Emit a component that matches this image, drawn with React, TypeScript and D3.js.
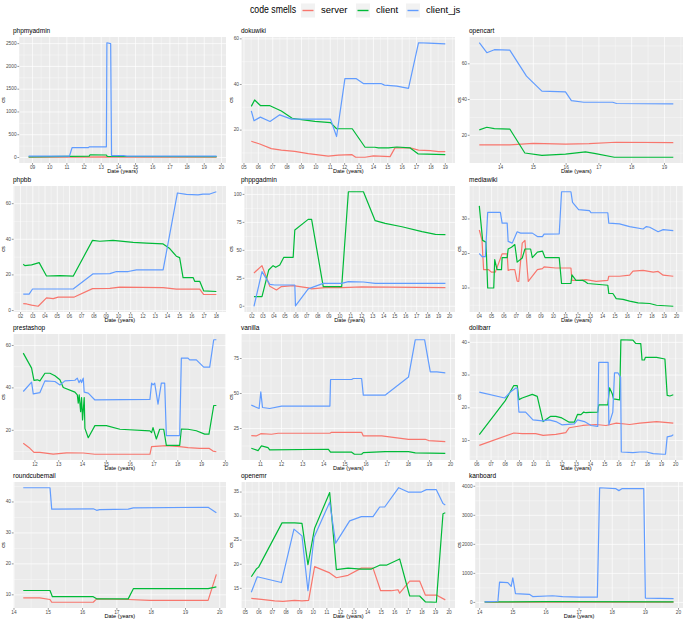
import * as d3 from "d3";
import React from "react";

type Pt = [number, number];

// --- data: [decimal year, code smells] ---

const phpmyadminServer: Pt[] = [[2008.77, 5], [2011.2, 10], [2013.3, 15], [2013.6, 10], [2019.72, 8]];
const phpmyadminClient: Pt[] = [[2008.77, 15], [2011.2, 25], [2012.3, 30], [2012.35, 60], [2013.3, 55], [2013.35, 25], [2019.72, 20]];
const phpmyadminClientJs: Pt[] = [[2008.77, 30], [2011.15, 30], [2011.3, 215], [2012.25, 215], [2012.3, 235], [2013.3, 235], [2013.33, 2520], [2013.55, 2500], [2013.6, 40], [2014.3, 40], [2014.5, 30], [2019.72, 30]];

const dokuwikiServer: Pt[] = [[2005.51, 15.1], [2006.1, 13.9], [2006.9, 11.9], [2007.6, 11.2], [2008.53, 10.7], [2009.47, 9.7], [2010.86, 8.6], [2011.56, 9.0], [2012.49, 9.3], [2012.77, 8.1], [2013.42, 8.1], [2014.0, 8.7], [2015.16, 8.4], [2015.5, 12.2], [2016.56, 12.2], [2017.14, 11.2], [2017.95, 11.0], [2018.53, 10.6], [2019.0, 10.6]];
const dokuwikiClient: Pt[] = [[2005.51, 30.4], [2005.74, 33.2], [2006.16, 30.7], [2006.81, 30.7], [2007.6, 28.4], [2008.35, 25.2], [2009.0, 24.6], [2009.93, 23.8], [2011.02, 23.3], [2011.44, 20.6], [2012.53, 20.6], [2013.42, 12.5], [2014.1, 12.5], [2014.35, 12.2], [2015.05, 12.2], [2015.63, 12.6], [2016.56, 12.2], [2017.1, 9.6], [2019.0, 9.3]];
const dokuwikiClientJs: Pt[] = [[2005.51, 28.4], [2005.7, 24.1], [2006.14, 25.7], [2006.81, 23.8], [2007.49, 26.7], [2008.3, 24.8], [2011.02, 24.8], [2011.44, 17.2], [2012.02, 42.6], [2012.79, 42.6], [2013.3, 40.4], [2014.53, 40.4], [2014.77, 39.7], [2015.63, 39.3], [2016.44, 38.3], [2017.14, 58.3], [2017.84, 58.1], [2019.0, 57.8]];

const opencartServer: Pt[] = [[2013.35, 14.6], [2014.28, 14.6], [2015.0, 15.5], [2015.98, 15.1], [2016.7, 15.3], [2017.52, 16.1], [2019.27, 15.9]];
const opencartClient: Pt[] = [[2013.35, 23.0], [2013.58, 24.5], [2013.81, 23.7], [2014.28, 23.5], [2014.74, 10.1], [2015.26, 8.8], [2015.98, 9.5], [2016.59, 10.7], [2016.9, 9.7], [2017.47, 7.7], [2019.27, 7.7]];
const opencartClientJs: Pt[] = [[2013.35, 71.8], [2013.58, 66.2], [2013.81, 67.9], [2014.28, 67.7], [2014.79, 53.1], [2015.0, 49.3], [2015.26, 44.7], [2015.98, 44.3], [2016.16, 39.4], [2016.54, 38.5], [2017.42, 38.5], [2017.54, 37.8], [2019.27, 37.6]];

const phpbbServer: Pt[] = [[2002.22, 3.9], [2002.5, 3.7], [2002.9, 3.0], [2003.44, 2.4], [2004.12, 7.1], [2004.67, 6.7], [2005.07, 7.5], [2006.35, 7.5], [2007.88, 12.3], [2009.3, 12.5], [2010.1, 13.1], [2013.65, 12.9], [2014.73, 12.0], [2016.64, 12.0], [2016.97, 9.0], [2018.0, 9.0]];
const phpbbClient: Pt[] = [[2002.22, 26.0], [2002.35, 25.2], [2002.9, 25.6], [2003.52, 26.9], [2004.12, 19.4], [2005.21, 19.6], [2006.3, 19.3], [2007.88, 39.4], [2008.48, 38.9], [2009.56, 39.4], [2011.2, 38.3], [2012.29, 37.9], [2013.65, 37.4], [2014.19, 34.8], [2014.73, 30.5], [2015.0, 29.7], [2015.28, 18.5], [2016.1, 18.5], [2016.23, 16.4], [2016.64, 16.4], [2016.97, 11.0], [2018.0, 10.7]];
const phpbbClientJs: Pt[] = [[2002.22, 9.2], [2002.7, 9.2], [2002.98, 12.1], [2006.3, 12.1], [2007.93, 20.6], [2009.3, 20.7], [2009.84, 21.9], [2010.8, 21.9], [2011.47, 22.8], [2013.65, 22.8], [2014.82, 66.0], [2015.55, 65.2], [2016.5, 64.9], [2016.91, 65.4], [2017.46, 65.4], [2018.0, 66.7]];

const phppgadminServer: Pt[] = [[2002.18, 29.8], [2002.91, 36.3], [2003.62, 17.9], [2004.23, 14.6], [2004.68, 17.6], [2005.75, 18.5], [2007.12, 16.4], [2007.43, 15.5], [2008.65, 16.7], [2010.17, 16.7], [2012.0, 17.3], [2019.62, 16.7]];
const phppgadminClient: Pt[] = [[2002.18, 8.6], [2002.91, 8.6], [2003.52, 32.4], [2003.92, 36.3], [2004.16, 34.8], [2004.53, 36.9], [2004.9, 43.8], [2005.75, 43.8], [2005.9, 68.2], [2007.12, 77.7], [2007.43, 77.7], [2008.49, 17.6], [2010.17, 17.6], [2010.78, 102.4], [2012.15, 102.4], [2013.22, 76.5], [2014.13, 74.1], [2015.66, 71.1], [2017.49, 66.7], [2018.71, 64.3], [2019.62, 64.0]];
const phppgadminClientJs: Pt[] = [[2002.18, 0.0], [2002.91, 31.0], [2003.62, 19.6], [2004.07, 19.0], [2005.9, 19.0], [2005.96, 0.3], [2007.12, 15.5], [2008.49, 20.5], [2010.17, 20.5], [2010.78, 22.0], [2012.15, 21.7], [2013.22, 20.5], [2019.62, 20.5]];

const mediawikiServer: Pt[] = [[2004.0, 26.8], [2004.22, 23.8], [2004.35, 15.3], [2004.76, 15.3], [2004.98, 14.6], [2005.3, 14.6], [2005.85, 19.9], [2006.26, 19.9], [2006.34, 15.1], [2006.5, 15.3], [2006.88, 15.3], [2007.07, 12.0], [2007.2, 11.9], [2007.48, 23.0], [2007.7, 23.8], [2007.97, 11.9], [2008.71, 15.3], [2009.12, 15.6], [2009.25, 16.1], [2010.2, 15.8], [2011.43, 15.8], [2011.51, 12.2], [2012.11, 12.2], [2012.65, 12.4], [2013.47, 11.9], [2014.42, 12.2], [2014.5, 13.4], [2015.37, 13.4], [2016.19, 13.7], [2016.46, 14.9], [2017.28, 15.1], [2018.1, 14.6], [2018.5, 14.8], [2018.91, 13.7], [2019.73, 13.4]];
const mediawikiClient: Pt[] = [[2004.0, 33.8], [2004.27, 23.8], [2004.54, 23.3], [2004.68, 10.0], [2005.17, 10.0], [2005.25, 18.2], [2005.44, 15.3], [2005.8, 15.3], [2005.85, 18.8], [2006.26, 18.8], [2006.34, 21.3], [2006.61, 21.8], [2006.88, 22.6], [2007.07, 17.5], [2007.48, 18.7], [2007.7, 21.3], [2008.16, 21.3], [2008.3, 18.8], [2008.71, 20.4], [2009.12, 20.7], [2009.33, 18.8], [2010.48, 18.8], [2010.67, 11.3], [2011.43, 11.3], [2011.51, 13.8], [2011.84, 12.2], [2012.38, 12.2], [2012.52, 12.0], [2012.79, 11.3], [2014.42, 10.8], [2014.5, 8.4], [2014.83, 8.4], [2015.1, 6.9], [2015.65, 6.7], [2016.19, 6.2], [2016.87, 5.7], [2017.82, 5.5], [2018.37, 5.0], [2019.73, 4.7]];
const mediawikiClientJs: Pt[] = [[2004.0, 20.0], [2004.22, 19.1], [2004.49, 19.1], [2004.68, 31.9], [2005.71, 31.9], [2005.85, 28.8], [2006.26, 28.8], [2006.34, 23.5], [2006.67, 23.0], [2007.07, 26.3], [2007.35, 25.9], [2008.3, 25.9], [2008.71, 24.9], [2009.12, 24.9], [2009.25, 25.6], [2010.48, 25.7], [2010.67, 37.9], [2011.43, 37.9], [2011.56, 34.8], [2012.05, 32.7], [2012.93, 32.4], [2013.07, 31.8], [2014.42, 31.8], [2014.5, 28.8], [2015.37, 28.6], [2016.19, 27.8], [2017.28, 27.1], [2017.55, 27.8], [2017.82, 27.6], [2018.5, 26.3], [2018.91, 26.9], [2019.73, 26.6]];

const prestashopServer: Pt[] = [[2011.51, 13.9], [2011.79, 11.5], [2011.96, 9.6], [2012.21, 9.6], [2012.77, 8.8], [2013.33, 9.4], [2014.03, 9.3], [2014.52, 8.7], [2016.83, 8.7], [2016.9, 12.3], [2017.52, 12.8], [2018.08, 12.3], [2018.43, 11.8], [2018.92, 11.5], [2019.31, 11.5], [2019.48, 10.2], [2019.62, 9.9]];
const prestashopClient: Pt[] = [[2011.51, 56.4], [2011.86, 49.3], [2011.96, 43.5], [2012.1, 43.8], [2012.21, 43.3], [2012.42, 46.9], [2012.63, 46.9], [2012.84, 45.7], [2013.05, 43.8], [2013.19, 40.2], [2013.68, 38.0], [2013.78, 36.7], [2013.82, 32.8], [2013.86, 36.7], [2013.92, 28.8], [2013.96, 35.4], [2014.0, 24.9], [2014.07, 35.4], [2014.1, 20.9], [2014.24, 16.5], [2014.52, 22.2], [2015.0, 22.2], [2015.57, 20.5], [2016.83, 19.7], [2016.9, 18.9], [2016.96, 21.3], [2017.1, 15.9], [2017.24, 20.5], [2017.41, 20.5], [2017.52, 12.9], [2018.08, 12.9], [2018.15, 20.6], [2018.43, 20.5], [2018.78, 19.8], [2019.13, 18.2], [2019.31, 18.2], [2019.51, 31.7], [2019.62, 31.7]];
const prestashopClientJs: Pt[] = [[2011.51, 38.3], [2011.86, 42.7], [2011.93, 37.2], [2012.21, 37.8], [2012.42, 43.3], [2012.84, 43.0], [2013.05, 41.4], [2013.26, 43.3], [2013.68, 43.6], [2013.78, 44.6], [2013.85, 42.5], [2013.92, 43.8], [2013.96, 42.5], [2014.03, 44.6], [2014.07, 38.0], [2014.24, 37.5], [2014.52, 34.3], [2016.83, 34.6], [2016.9, 42.2], [2016.96, 41.4], [2017.03, 42.2], [2017.17, 32.3], [2017.31, 42.2], [2017.45, 42.2], [2017.52, 17.5], [2018.08, 17.5], [2018.15, 54.0], [2018.43, 54.0], [2018.5, 53.2], [2018.78, 53.2], [2019.09, 49.8], [2019.34, 49.8], [2019.51, 62.7], [2019.62, 62.7]];

const vanillaServer: Pt[] = [[2010.57, 19.9], [2010.8, 19.7], [2011.02, 21.3], [2011.52, 20.9], [2011.84, 21.6], [2014.29, 21.6], [2014.37, 22.3], [2015.79, 22.3], [2015.87, 19.7], [2016.74, 19.7], [2018.01, 17.3], [2018.8, 17.3], [2018.96, 16.4], [2019.75, 15.6]];
const vanillaClient: Pt[] = [[2010.57, 10.9], [2010.89, 9.2], [2011.05, 12.6], [2011.36, 11.4], [2011.44, 9.7], [2014.21, 10.2], [2014.32, 8.1], [2015.32, 8.1], [2015.45, 6.6], [2015.79, 6.6], [2015.87, 7.8], [2016.9, 8.5], [2018.01, 8.5], [2018.33, 7.6], [2019.75, 7.3]];
const vanillaClientJs: Pt[] = [[2010.57, 41.7], [2010.94, 39.3], [2011.02, 51.2], [2011.1, 40.0], [2011.44, 39.3], [2012.0, 41.0], [2014.29, 41.0], [2014.32, 60.0], [2015.32, 60.0], [2015.4, 60.7], [2015.79, 60.7], [2015.87, 48.8], [2016.9, 48.8], [2018.01, 61.8], [2018.33, 88.4], [2018.77, 88.4], [2019.04, 65.4], [2019.35, 65.4], [2019.75, 64.7]];

const dolibarrServer: Pt[] = [[2006.17, 8.5], [2008.6, 12.3], [2009.19, 12.1], [2010.14, 12.1], [2010.66, 11.6], [2011.56, 11.9], [2012.26, 12.4], [2012.5, 13.9], [2013.45, 14.6], [2014.39, 14.9], [2015.1, 14.6], [2015.81, 15.3], [2016.76, 14.9], [2017.47, 15.3], [2018.65, 15.8], [2019.83, 15.3]];
const dolibarrClient: Pt[] = [[2006.17, 11.8], [2008.0, 22.2], [2008.6, 26.8], [2008.84, 26.8], [2008.96, 22.5], [2009.19, 23.0], [2009.9, 24.1], [2010.25, 23.5], [2010.66, 15.8], [2011.2, 17.4], [2011.56, 17.4], [2011.98, 16.9], [2012.5, 15.6], [2012.86, 15.6], [2013.09, 18.0], [2013.33, 17.9], [2013.52, 18.7], [2013.68, 18.5], [2013.92, 18.6], [2014.51, 18.7], [2014.58, 20.9], [2015.22, 20.9], [2015.34, 26.1], [2015.53, 24.3], [2015.62, 22.7], [2016.05, 22.4], [2016.14, 40.8], [2016.99, 40.7], [2017.18, 39.7], [2017.54, 39.6], [2017.63, 34.6], [2017.8, 34.6], [2017.86, 35.4], [2018.65, 35.4], [2019.24, 34.9], [2019.4, 23.8], [2019.59, 23.6], [2019.83, 24.0]];
const dolibarrClientJs: Pt[] = [[2006.17, 24.8], [2007.96, 23.0], [2008.36, 24.8], [2008.72, 26.0], [2008.84, 26.0], [2008.96, 18.7], [2009.43, 18.7], [2009.95, 16.3], [2010.61, 16.0], [2011.08, 16.3], [2011.56, 15.8], [2011.98, 14.8], [2012.86, 15.1], [2013.09, 16.3], [2013.57, 15.8], [2014.04, 14.6], [2014.51, 14.3], [2014.58, 33.9], [2015.24, 33.9], [2015.29, 14.8], [2015.57, 18.7], [2015.69, 30.7], [2015.93, 30.7], [2016.12, 29.3], [2016.17, 6.5], [2016.99, 6.3], [2017.47, 6.5], [2017.94, 6.5], [2018.41, 6.0], [2019.12, 5.8], [2019.28, 5.8], [2019.4, 11.1], [2019.71, 11.4], [2019.83, 11.8]];

const roundcubemailServer: Pt[] = [[2014.27, 9.0], [2014.75, 9.0], [2015.05, 8.5], [2015.1, 7.6], [2016.31, 7.6], [2016.41, 8.7], [2017.33, 8.5], [2017.96, 8.2], [2019.66, 8.2], [2019.9, 16.6]];
const roundcubemailClient: Pt[] = [[2014.27, 11.4], [2015.05, 11.4], [2015.12, 9.4], [2016.31, 9.4], [2016.41, 8.7], [2017.33, 8.7], [2017.48, 12.0], [2019.66, 12.0], [2019.9, 12.6]];
const roundcubemailClientJs: Pt[] = [[2014.27, 44.6], [2015.05, 44.6], [2015.1, 37.7], [2016.31, 37.8], [2016.41, 37.3], [2016.5, 37.5], [2017.33, 37.7], [2017.48, 38.1], [2019.66, 38.3], [2019.9, 36.5]];

const openemrServer: Pt[] = [[2005.44, 12.9], [2006.18, 12.7], [2007.16, 12.4], [2007.77, 12.3], [2008.63, 12.5], [2009.17, 12.4], [2009.66, 12.5], [2010.1, 19.5], [2011.21, 18.2], [2011.7, 17.2], [2012.56, 17.7], [2013.54, 19.2], [2014.4, 19.2], [2014.96, 14.5], [2015.75, 14.5], [2016.24, 14.7], [2016.36, 14.0], [2017.1, 16.5], [2017.83, 16.5], [2018.25, 13.6], [2019.06, 13.6], [2019.72, 12.6]];
const openemrClient: Pt[] = [[2005.44, 17.4], [2005.81, 19.0], [2005.98, 19.4], [2007.7, 28.6], [2008.63, 28.6], [2009.17, 28.5], [2009.61, 19.9], [2010.1, 27.5], [2011.21, 34.9], [2011.7, 18.9], [2012.56, 19.2], [2013.54, 19.0], [2014.28, 19.0], [2014.89, 19.8], [2015.38, 19.8], [2016.36, 21.1], [2017.1, 13.4], [2017.83, 13.4], [2018.25, 12.2], [2019.06, 12.1], [2019.55, 30.5], [2019.72, 30.7]];
const openemrClientJs: Pt[] = [[2005.44, 14.2], [2005.88, 17.4], [2007.65, 16.2], [2008.58, 27.3], [2009.17, 25.9], [2009.61, 14.5], [2010.06, 25.6], [2011.21, 32.9], [2011.65, 24.4], [2012.68, 29.0], [2013.54, 29.9], [2014.4, 29.9], [2014.89, 31.9], [2015.26, 31.9], [2016.29, 35.9], [2016.98, 35.0], [2017.96, 35.0], [2018.33, 35.5], [2019.06, 35.5], [2019.55, 32.6], [2019.72, 32.3]];

const kanboardServer: Pt[] = [[2014.15, 5], [2016.0, 8], [2019.85, 10]];
const kanboardClient: Pt[] = [[2014.15, 20], [2016.0, 25], [2019.85, 20]];
const kanboardClientJs: Pt[] = [[2014.15, 20], [2014.55, 40], [2014.6, 700], [2014.85, 680], [2014.95, 550], [2015.0, 850], [2015.08, 300], [2015.5, 280], [2015.6, 200], [2016.2, 230], [2016.5, 200], [2017.0, 180], [2017.55, 180], [2017.62, 3950], [2018.1, 3920], [2018.2, 3850], [2018.3, 3920], [2018.95, 3920], [2019.0, 150], [2019.85, 130]];

// y tick values per project
const phpmyadminTicks = [0, 500, 1000, 1500, 2000, 2500];
const dokuwikiTicks = [20, 40, 60];
const opencartTicks = [20, 40, 60];
const phpbbTicks = [0, 20, 40, 60];
const phppgadminTicks = [0, 25, 50, 75, 100];
const mediawikiTicks = [10, 20, 30];
const prestashopTicks = [20, 40, 60];
const vanillaTicks = [25, 50, 75];
const dolibarrTicks = [10, 20, 30, 40];
const roundcubemailTicks = [10, 20, 30, 40];
const openemrTicks = [15, 20, 25, 30, 35];
const kanboardTicks = [0, 1000, 2000, 3000, 4000];

const seriesNames = ["server", "client", "client_js"];
const seriesColors = ["#F8766D", "#00BA38", "#619CFF"];

const panels = [
  { name: "phpmyadmin", series: [phpmyadminServer, phpmyadminClient, phpmyadminClientJs], yTicks: phpmyadminTicks },
  { name: "dokuwiki", series: [dokuwikiServer, dokuwikiClient, dokuwikiClientJs], yTicks: dokuwikiTicks },
  { name: "opencart", series: [opencartServer, opencartClient, opencartClientJs], yTicks: opencartTicks },
  { name: "phpbb", series: [phpbbServer, phpbbClient, phpbbClientJs], yTicks: phpbbTicks },
  { name: "phppgadmin", series: [phppgadminServer, phppgadminClient, phppgadminClientJs], yTicks: phppgadminTicks },
  { name: "mediawiki", series: [mediawikiServer, mediawikiClient, mediawikiClientJs], yTicks: mediawikiTicks },
  { name: "prestashop", series: [prestashopServer, prestashopClient, prestashopClientJs], yTicks: prestashopTicks },
  { name: "vanilla", series: [vanillaServer, vanillaClient, vanillaClientJs], yTicks: vanillaTicks },
  { name: "dolibarr", series: [dolibarrServer, dolibarrClient, dolibarrClientJs], yTicks: dolibarrTicks },
  { name: "roundcubemail", series: [roundcubemailServer, roundcubemailClient, roundcubemailClientJs], yTicks: roundcubemailTicks },
  { name: "openemr", series: [openemrServer, openemrClient, openemrClientJs], yTicks: openemrTicks },
  { name: "kanboard", series: [kanboardServer, kanboardClient, kanboardClientJs], yTicks: kanboardTicks },
];

const W = 685;
const H = 621;
const FONT = "'Liberation Sans', Arial, sans-serif";
const colLeft = [0, 228, 456];
const colRight = [226, 455, 683];
const rowTop = [26, 175, 323, 471];

const fmtYear = d3.format("02d");

function Panel({ p, i }: { p: (typeof panels)[number]; i: number }) {
  const c = i % 3;
  const r = Math.floor(i / 3);
  const x0 = colLeft[c];
  const top = rowTop[r] + 11;
  const bottom = rowTop[r] + 137;
  const labelW = (d3.max(p.yTicks, (t) => String(t).length) as number) * 2.8;
  const left = x0 + 8 + labelW;
  const right = colRight[c];

  const all = p.series.flat();
  const [xa, xb] = d3.extent(all, (d) => d[0]) as [number, number];
  const [ya, yb] = d3.extent(all, (d) => d[1]) as [number, number];
  const xpad = (xb - xa) * 0.05;
  const ypad = (yb - ya) * 0.05;

  const x = d3.scaleLinear().domain([xa - xpad, xb + xpad]).range([left, right]);
  const y = d3.scaleLinear().domain([ya - ypad, yb + ypad]).range([bottom, top]);

  const [xd0, xd1] = x.domain();
  const [yd0, yd1] = y.domain();
  const xTicks = d3.range(Math.ceil(xd0), Math.floor(xd1) + 1);
  const xMinor = d3.range(Math.floor(xd0) + 0.5, xd1, 1).filter((v) => v > xd0 && v < xd1);
  const step = p.yTicks[1] - p.yTicks[0];
  const yMinor = d3
    .range(p.yTicks[0] - step / 2, p.yTicks[p.yTicks.length - 1] + step, step)
    .filter((v) => v > yd0 && v < yd1);
  const yMajor = p.yTicks.filter((v) => v >= yd0 && v <= yd1);

  const line = d3
    .line<Pt>()
    .x((d) => x(d[0]))
    .y((d) => y(d[1]));

  return (
    <g>
      <text x={x0 + 13} y={rowTop[r] + 5} fontSize={6.5} dominantBaseline="middle" fill="#000">
        {p.name}
      </text>
      <rect x={left} y={top} width={right - left} height={bottom - top} fill="#EBEBEB" />
      {xMinor.map((v) => (
        <line key={"xm" + v} x1={x(v)} x2={x(v)} y1={top} y2={bottom} stroke="#fff" strokeWidth={0.35} />
      ))}
      {yMinor.map((v) => (
        <line key={"ym" + v} x1={left} x2={right} y1={y(v)} y2={y(v)} stroke="#fff" strokeWidth={0.35} />
      ))}
      {xTicks.map((v) => (
        <line key={"xM" + v} x1={x(v)} x2={x(v)} y1={top} y2={bottom} stroke="#fff" strokeWidth={0.7} />
      ))}
      {yMajor.map((v) => (
        <line key={"yM" + v} x1={left} x2={right} y1={y(v)} y2={y(v)} stroke="#fff" strokeWidth={0.7} />
      ))}
      {p.series.map((s, k) => (
        <path key={k} d={line(s) ?? ""} fill="none" stroke={seriesColors[k]} strokeWidth={1.2} strokeLinejoin="round" />
      ))}
      {/* axes */}
      {xTicks.map((v) => (
        <g key={"xt" + v}>
          <line x1={x(v)} x2={x(v)} y1={bottom} y2={bottom + 1.8} stroke="#333" strokeWidth={0.5} />
          <text x={x(v)} y={bottom + 4.3} fontSize={4.8} fill="#4D4D4D" textAnchor="middle" dominantBaseline="middle">
            {fmtYear(v % 100)}
          </text>
        </g>
      ))}
      {yMajor.map((v) => (
        <g key={"yt" + v}>
          <line x1={left - 1.8} x2={left} y1={y(v)} y2={y(v)} stroke="#333" strokeWidth={0.5} />
          <text x={left - 2.6} y={y(v)} fontSize={4.8} fill="#4D4D4D" textAnchor="end" dominantBaseline="middle">
            {v}
          </text>
        </g>
      ))}
      <text x={(left + right) / 2} y={rowTop[r] + 146} fontSize={5.6} textAnchor="middle" dominantBaseline="middle" fill="#000">
        Date (years)
      </text>
      <text
        transform={`translate(${x0 + 4},${(top + bottom) / 2}) rotate(-90)`}
        fontSize={5.6}
        textAnchor="middle"
        dominantBaseline="middle"
        fill="#000"
      >
        cs
      </text>
    </g>
  );
}

function Legend() {
  const keyX = [301, 356, 406];
  return (
    <g>
      <text x={250} y={10.5} fontSize={10.5} textLength={46} lengthAdjust="spacingAndGlyphs" dominantBaseline="middle">
        code smells
      </text>
      {seriesNames.map((n, k) => (
        <g key={n}>
          <rect x={keyX[k]} y={3.5} width={14} height={14} fill="#F2F2F2" />
          <line x1={keyX[k] + 1.5} x2={keyX[k] + 12.5} y1={10.5} y2={10.5} stroke={seriesColors[k]} strokeWidth={1.4} />
          <text x={keyX[k] + 20} y={10.5} fontSize={9.5} dominantBaseline="middle">
            {n}
          </text>
        </g>
      ))}
    </g>
  );
}

export default function App() {
  return (
    <svg
      width={W}
      height={H}
      viewBox={`0 0 ${W} ${H}`}
      style={{ position: "absolute", left: 0, top: 0, background: "#fff" }}
      fontFamily={FONT}
    >
      <Legend />
      {panels.map((p, i) => (
        <Panel key={p.name} p={p} i={i} />
      ))}
    </svg>
  );
}
